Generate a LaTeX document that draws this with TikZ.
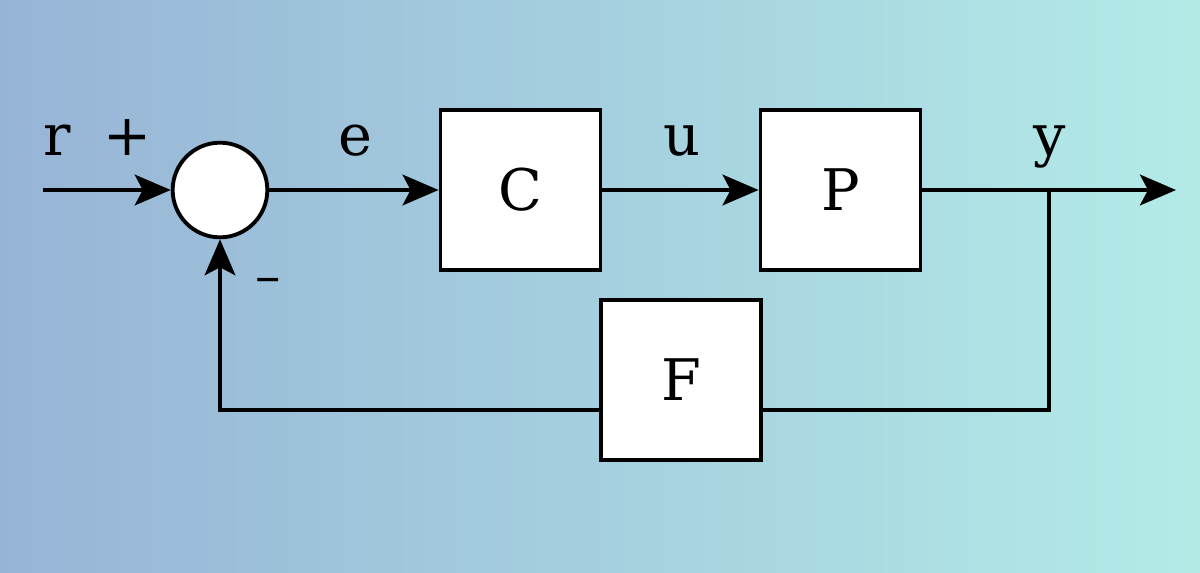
\documentclass[tikz,border=0pt]{standalone}
\usepackage{fontspec}
\setmainfont{DejaVu Serif}
\usetikzlibrary{arrows.meta}
\definecolor{bgleft}{HTML}{97B4D6}
\definecolor{bgright}{HTML}{B3EBE7}
\begin{document}
\begin{tikzpicture}[x=0.75pt,y=-0.75pt,
  line width=2.9pt,
  blk/.style={draw=black,fill=white,minimum width=120pt,minimum height=120pt,inner sep=0pt,font=\fontsize{43}{50}\selectfont},
  sumnode/.style={draw=black,fill=white,circle,minimum size=71pt,inner sep=0pt},
  lbl/.style={font=\fontsize{43}{50}\selectfont,anchor=base,inner sep=0pt},
  sig/.style={-{Stealth[length=27pt,width=23pt,inset=6pt]}}]
\useasboundingbox (0,0) rectangle (1200,572);
\shade[left color=bgleft,right color=bgright] (0,0) rectangle (1200,572);
\node[sumnode] (sum) at (220,190) {};
\node[blk] (C) at (520.5,190) {C};
\node[blk] (P) at (840.5,190) {P};
\node[blk] (F) at (681,380) {F};
\coordinate (in) at (43,190);
\coordinate (out) at (1176,190);
\coordinate (br) at (1049,190);
\coordinate (brd) at (1049,410);
\coordinate (fbl) at (220,410);
\draw[sig] (in) -- (sum.west);
\draw[sig] (sum.east) -- (C.west);
\draw[sig] (C.east) -- (P.west);
\draw[sig] (P.east) -- (out);
\draw (br) -- (brd) -- (F.east |- brd);
\draw[sig] (F.west |- fbl) -- (fbl) -- (sum.south);
\node[lbl] (r) at (57,155) {r};
\node[lbl] (plus) at (128,155) {+};
\node[lbl,font=\fontsize{38}{40}\selectfont] (minus) at (268,293) {–};
\node[lbl] (e) at (355,155) {e};
\node[lbl] (u) at (682,155) {u};
\node[lbl] (y) at (1050,155) {y};
\end{tikzpicture}
\end{document}
